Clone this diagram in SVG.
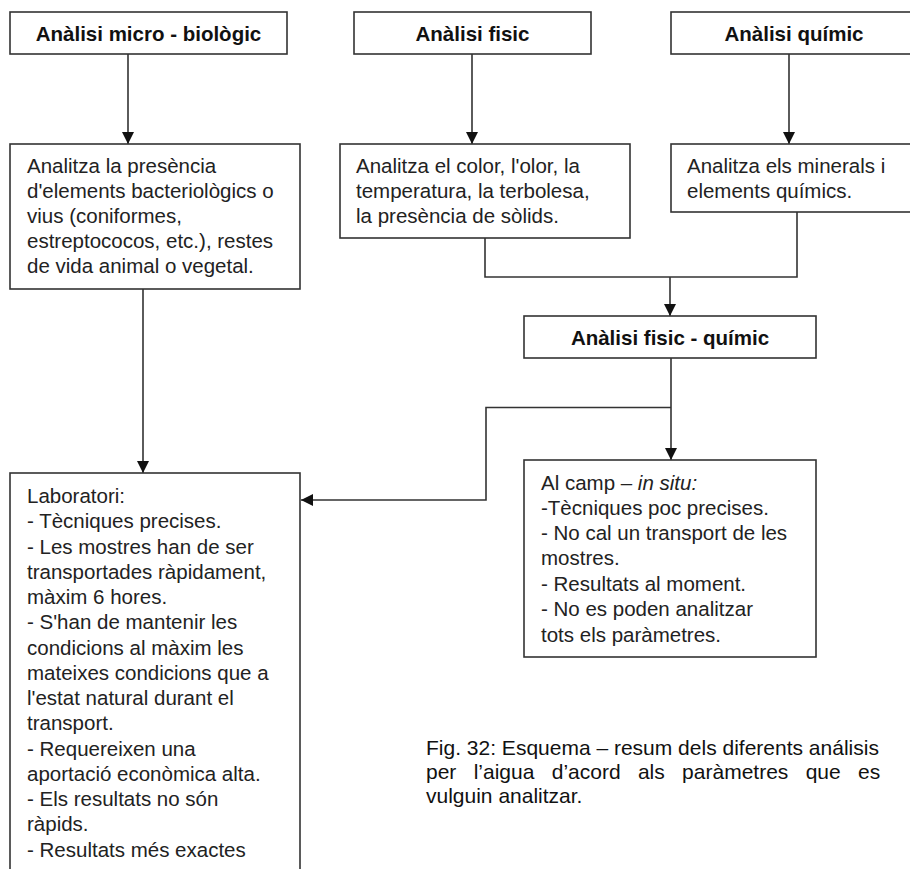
<svg xmlns="http://www.w3.org/2000/svg" width="910" height="869" viewBox="0 0 910 869">
<defs>
<marker id="arr" markerUnits="userSpaceOnUse" markerWidth="12" markerHeight="12" viewBox="0 0 12 12" refX="12" refY="6" orient="auto">
<path d="M0,0 L12,6 L0,12 z" fill="#111"/>
</marker>
<style>
.box{fill:#fff;stroke:#333;stroke-width:1.6}
.hd{font-family:"Liberation Sans",Arial,sans-serif;font-weight:bold;font-size:20.5px;fill:#111;text-anchor:middle}
.tx{font-family:"Liberation Sans",Arial,sans-serif;font-size:20.5px;fill:#222}
.cap{font-family:"Liberation Sans",Arial,sans-serif;font-size:21px;fill:#111}
.ln{fill:none;stroke:#333;stroke-width:1.6}
</style>
</defs>
<rect width="910" height="869" fill="#fff"/>

<g id="connectors">
<line class="ln" x1="128" y1="54" x2="128" y2="144" marker-end="url(#arr)"/>
<line class="ln" x1="472" y1="54" x2="472" y2="144" marker-end="url(#arr)"/>
<line class="ln" x1="789" y1="54" x2="789" y2="144" marker-end="url(#arr)"/>
<line class="ln" x1="143" y1="289" x2="143" y2="473" marker-end="url(#arr)"/>
<polyline class="ln" points="485,238 485,277 797,277 797,212"/>
<line class="ln" x1="670" y1="277" x2="670" y2="316" marker-end="url(#arr)"/>
<line class="ln" x1="671" y1="358" x2="671" y2="460" marker-end="url(#arr)"/>
<polyline class="ln" points="671,407.5 486,407.5 486,500 301,500" marker-end="url(#arr)"/>
</g>

<g id="n-micro">
<rect class="box" x="10" y="12" width="277" height="42"/>
<text class="hd" x="148.5" y="40.5">Anàlisi micro - biològic</text>
</g>

<g id="n-fisic">
<rect class="box" x="354" y="12" width="237" height="42"/>
<text class="hd" x="472.5" y="40.5">Anàlisi fisic</text>
</g>

<g id="n-quimic">
<rect class="box" x="671" y="12" width="246" height="42"/>
<text class="hd" x="794" y="40.5">Anàlisi químic</text>
</g>

<g id="n-micro-desc">
<rect class="box" x="10" y="144" width="290" height="145"/>
<text class="tx">
<tspan x="27" y="173">Analitza la presència</tspan>
<tspan x="27" y="198">d'elements bacteriològics o</tspan>
<tspan x="27" y="223">vius (coniformes,</tspan>
<tspan x="27" y="248">estreptococos, etc.), restes</tspan>
<tspan x="27" y="273">de vida animal o vegetal.</tspan>
</text>
</g>

<g id="n-fisic-desc">
<rect class="box" x="340" y="144" width="290" height="94"/>
<text class="tx">
<tspan x="356" y="173">Analitza el color, l'olor, la</tspan>
<tspan x="356" y="198">temperatura, la terbolesa,</tspan>
<tspan x="356" y="223">la presència de sòlids.</tspan>
</text>
</g>

<g id="n-quimic-desc">
<rect class="box" x="671" y="144" width="246" height="68"/>
<text class="tx">
<tspan x="687" y="173">Analitza els minerals i</tspan>
<tspan x="687" y="198">elements químics.</tspan>
</text>
</g>

<g id="n-fisic-quimic">
<rect class="box" x="524" y="316" width="292" height="42"/>
<text class="hd" x="670" y="344.5">Anàlisi fisic - químic</text>
</g>

<g id="n-camp">
<rect class="box" x="524" y="460" width="292" height="197"/>
<text class="tx">
<tspan x="541" y="490">Al camp – <tspan font-style="italic">in situ:</tspan></tspan>
<tspan x="541" y="515">-Tècniques poc precises.</tspan>
<tspan x="541" y="540">- No cal un transport de les</tspan>
<tspan x="541" y="565">mostres.</tspan>
<tspan x="541" y="591">- Resultats al moment.</tspan>
<tspan x="541" y="616">- No es poden analitzar</tspan>
<tspan x="541" y="642">tots els paràmetres.</tspan>
</text>
</g>

<g id="n-lab">
<rect class="box" x="10" y="473" width="290" height="420"/>
<text class="tx">
<tspan x="27" y="503">Laboratori:</tspan>
<tspan x="27" y="528.25">- Tècniques precises.</tspan>
<tspan x="27" y="553.5">- Les mostres han de ser</tspan>
<tspan x="27" y="578.75">transportades ràpidament,</tspan>
<tspan x="27" y="604">màxim 6 hores.</tspan>
<tspan x="27" y="629.25">- S'han de mantenir les</tspan>
<tspan x="27" y="654.5">condicions al màxim les</tspan>
<tspan x="27" y="679.75">mateixes condicions que a</tspan>
<tspan x="27" y="705">l'estat natural durant el</tspan>
<tspan x="27" y="730.25">transport.</tspan>
<tspan x="27" y="755.5">- Requereixen una</tspan>
<tspan x="27" y="780.75">aportació econòmica alta.</tspan>
<tspan x="27" y="806">- Els resultats no són</tspan>
<tspan x="27" y="831.25">ràpids.</tspan>
<tspan x="27" y="856.5">- Resultats més exactes</tspan>
</text>
</g>

<g id="caption">
<text class="cap" x="426" y="755">Fig. 32: Esquema – resum dels diferents análisis</text>
<text class="cap" x="426" y="779" word-spacing="11.5">per l’aigua d’acord als paràmetres que es</text>
<text class="cap" x="426" y="803">vulguin analitzar.</text>
</g>
</svg>
